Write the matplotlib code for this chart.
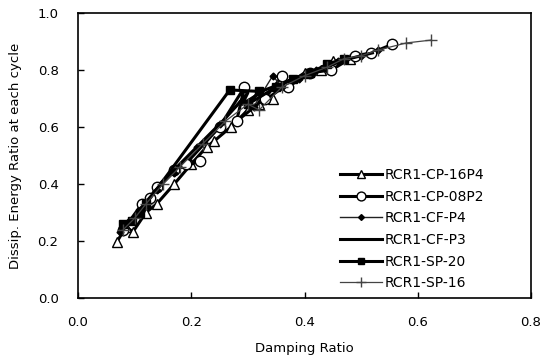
import matplotlib
matplotlib.use("Agg")
import matplotlib.pyplot as plt

# Damping ratio (x) vs dissipated energy ratio (y)
cp16p4_x = [0.068, 0.085, 0.097, 0.12, 0.139, 0.17, 0.20, 0.227, 0.24, 0.27, 0.30, 0.344, 0.32, 0.37, 0.40, 0.43, 0.45, 0.48]
cp16p4_y = [0.195, 0.25, 0.232, 0.30, 0.33, 0.40, 0.47, 0.53, 0.55, 0.60, 0.66, 0.70, 0.68, 0.75, 0.79, 0.80, 0.83, 0.84]

cp08p2_x = [0.08, 0.113, 0.127, 0.139, 0.17, 0.215, 0.19, 0.25, 0.294, 0.28, 0.33, 0.361, 0.37, 0.41, 0.447, 0.49, 0.518, 0.555]
cp08p2_y = [0.24, 0.33, 0.35, 0.39, 0.45, 0.48, 0.47, 0.60, 0.74, 0.62, 0.70, 0.78, 0.74, 0.79, 0.80, 0.85, 0.86, 0.89]

cfp4_x = [0.075, 0.09, 0.11, 0.14, 0.17, 0.21, 0.25, 0.29, 0.31, 0.344, 0.36, 0.39, 0.42, 0.46, 0.50, 0.53]
cfp4_y = [0.23, 0.27, 0.31, 0.38, 0.44, 0.53, 0.61, 0.69, 0.67, 0.78, 0.74, 0.77, 0.80, 0.83, 0.85, 0.87]

cfp3_x = [0.08, 0.10, 0.13, 0.16, 0.19, 0.22, 0.26, 0.30, 0.29, 0.33, 0.37, 0.41, 0.45, 0.48, 0.52]
cfp3_y = [0.24, 0.29, 0.36, 0.43, 0.49, 0.55, 0.63, 0.72, 0.68, 0.73, 0.76, 0.79, 0.82, 0.84, 0.86]

sp20_x = [0.08, 0.095, 0.11, 0.12, 0.268, 0.32, 0.30, 0.35, 0.38, 0.41, 0.44, 0.47]
sp20_y = [0.26, 0.27, 0.30, 0.33, 0.73, 0.725, 0.68, 0.74, 0.77, 0.79, 0.82, 0.84]

sp16_x = [0.08, 0.10, 0.12, 0.15, 0.18, 0.22, 0.26, 0.30, 0.32, 0.36, 0.40, 0.44, 0.47, 0.50, 0.53, 0.58, 0.624]
sp16_y = [0.24, 0.28, 0.33, 0.40, 0.46, 0.54, 0.62, 0.68, 0.66, 0.74, 0.78, 0.81, 0.84, 0.85, 0.87, 0.895, 0.905]

plt.rcParams['font.family'] = ['DejaVu Sans']
plt.rcParams['font.size'] = 9.5

fig = plt.figure(figsize=(5.41, 3.56), dpi=100)
ax = fig.add_axes([78 / 541, 58 / 356, 453 / 541, 285 / 356])

ax.plot(cp16p4_x, cp16p4_y, color='black', lw=2.2, marker='^', ms=7, mfc='white', mec='black', mew=1.0, label='RCR1-CP-16P4')
ax.plot(cp08p2_x, cp08p2_y, color='black', lw=2.2, marker='o', ms=7.5, mfc='white', mec='black', mew=1.0, label='RCR1-CP-08P2')
ax.plot(cfp4_x, cfp4_y, color='#222222', lw=1.0, marker='D', ms=3.5, mfc='black', mec='black', label='RCR1-CF-P4')
ax.plot(cfp3_x, cfp3_y, color='black', lw=2.2, label='RCR1-CF-P3')
ax.plot(sp20_x, sp20_y, color='black', lw=2.2, marker='s', ms=5.5, mfc='black', mec='black', label='RCR1-SP-20')
ax.plot(sp16_x, sp16_y, color='#444444', lw=0.9, marker='+', ms=9, mew=1.0, label='RCR1-SP-16')

ax.set_xlim(0.0, 0.8)
ax.set_ylim(0.0, 1.0)
ax.set_xticks([0.0, 0.2, 0.4, 0.6, 0.8])
ax.set_yticks([0.0, 0.2, 0.4, 0.6, 0.8, 1.0])
ax.xaxis.set_major_formatter(matplotlib.ticker.FormatStrFormatter('%.1f'))
ax.yaxis.set_major_formatter(matplotlib.ticker.FormatStrFormatter('%.1f'))
ax.tick_params(direction='in', length=4, width=1)
ax.tick_params(axis='x', pad=13)
ax.tick_params(axis='y', pad=14)
for s in ax.spines.values():
    s.set_linewidth(1.2)

ax.set_xlabel('Damping Ratio', labelpad=9)
ax.set_ylabel('Dissip. Energy Ratio at each cycle', labelpad=11)

ax.legend(loc='upper left', bbox_to_anchor=(340 / 541, 1 - 168 / 356), bbox_transform=fig.transFigure,
          frameon=False, handlelength=3.0, handletextpad=0.2, labelspacing=0.55,
          borderpad=0, borderaxespad=0, fontsize=10, markerscale=0.85)

fig.savefig('out.png', dpi=100)
